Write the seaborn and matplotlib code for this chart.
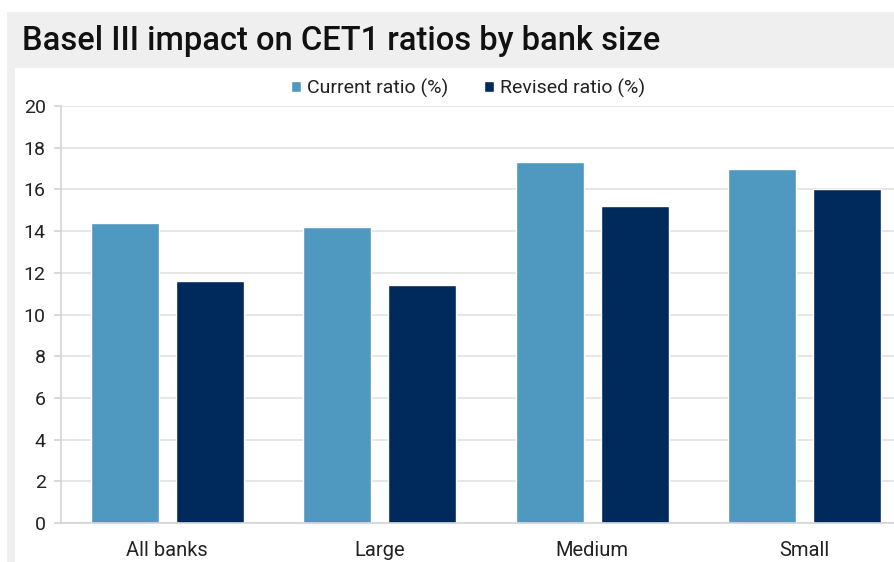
import matplotlib
matplotlib.use("Agg")
import matplotlib.pyplot as plt
from matplotlib.patches import Rectangle
import seaborn as sns
import pandas as pd

categories = ["All banks", "Large", "Medium", "Small"]
current_ratio = [14.4, 14.2, 17.3, 17.0]
revised_ratio = [11.6, 11.4, 15.2, 16.0]
series_names = ["Current ratio (%)", "Revised ratio (%)"]
y_ticks = [0, 2, 4, 6, 8, 10, 12, 14, 16, 18, 20]
title = "Basel III impact on CET1 ratios by bank size"

sns.set_theme(style="white")
plt.rcParams["font.family"] = ["Roboto", "DejaVu Sans"]

df = pd.DataFrame({
    "category": categories * 2,
    "value": current_ratio + revised_ratio,
    "series": [series_names[0]] * 4 + [series_names[1]] * 4,
})

fig = plt.figure(figsize=(8.94, 5.62), dpi=100)
W, H = 894, 562
fig.patches.append(Rectangle((7 / W, 0), 1, 1 - 12 / H, transform=fig.transFigure,
                             facecolor="#efefef", edgecolor="none", zorder=-10))
fig.patches.append(Rectangle((15 / W, 0), 1, 1 - 68 / H, transform=fig.transFigure,
                             facecolor="white", edgecolor="none", zorder=-9))

ax = fig.add_axes([61 / W, 1 - 523 / H, 850 / W, 417 / H])
ax.set_facecolor("none")
sns.barplot(data=df, x="category", y="value", hue="series", order=categories,
            hue_order=series_names, palette=["#4f98c0", "#002a5c"],
            width=0.8, gap=0.2, ax=ax, saturation=1, legend=True)

ax.set_xlim(-0.5, 3.5)
ax.set_ylim(0, 20)
ax.set_yticks(y_ticks)
ax.yaxis.grid(True, color="#e2e2e2", linewidth=1.2)
ax.set_axisbelow(True)
ax.set_xlabel("")
ax.set_ylabel("")
for s in ["top", "right"]:
    ax.spines[s].set_visible(False)
for s in ["left", "bottom"]:
    ax.spines[s].set_color("#d4d4d4")
    ax.spines[s].set_linewidth(1.2)
ax.tick_params(axis="y", left=True, length=5, color="#d4d4d4", labelsize=14,
               labelcolor="#222222", pad=6)
ax.tick_params(axis="x", which="major", length=0, labelsize=14.5, labelcolor="#222222", pad=13)
ax.set_xticks([0.5, 1.5, 2.5], minor=True)
ax.tick_params(axis="x", which="minor", length=6, color="#d4d4d4", width=1.2)

leg = ax.legend(loc="center", bbox_to_anchor=(468 / W, 1 - 88 / H),
                bbox_transform=fig.transFigure, ncol=2, frameon=False,
                fontsize=14, handlelength=0.55, handleheight=0.55, handletextpad=0.3,
                columnspacing=1.8, borderaxespad=0, borderpad=0)
for t in leg.get_texts():
    t.set_color("#222222")

fig.text(22 / W, 1 - 41 / H, title, fontsize=23.5, fontweight="medium",
         color="#111111", va="center", ha="left")

fig.savefig("out.png", dpi=100)
